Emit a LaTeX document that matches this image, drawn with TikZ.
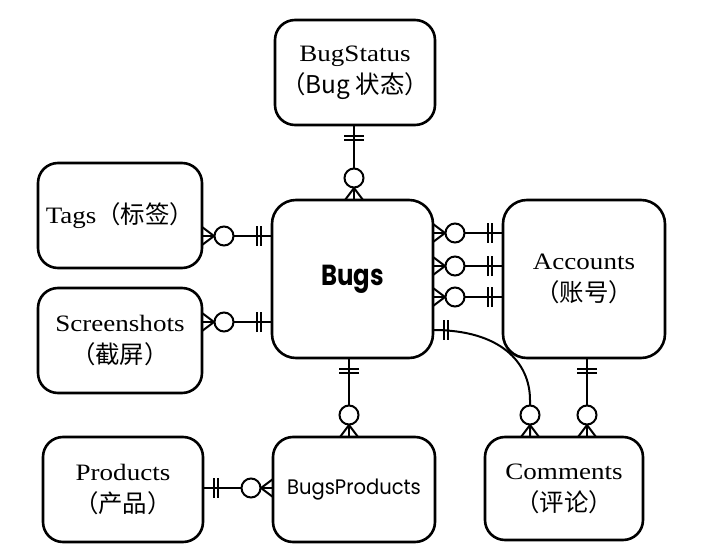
\documentclass[tikz,border=0pt]{standalone}
\usepackage{fontspec}
\setmainfont{Liberation Serif}[FakeStretch=1.15]
\newfontfamily\cjk{Noto Sans CJK SC}[Scale=1.04]
\newfontfamily\geo{Poppins}[FakeStretch=0.93]
\newfontfamily\geob{Poppins}[FakeStretch=0.84]
\usetikzlibrary{calc}
\newcommand{\onebar}[2]{%
  \draw[conn] ($(#1)!11pt!(#2)!10pt!90:(#2)$) -- ($(#1)!11pt!(#2)!10pt!-90:(#2)$);
  \draw[conn] ($(#1)!15pt!(#2)!10pt!90:(#2)$) -- ($(#1)!15pt!(#2)!10pt!-90:(#2)$);
}
\newcommand{\manyend}[2]{%
  \draw[conn] ($(#1)!12pt!(#2)$) -- ($(#1)!9pt!90:(#2)$);
  \draw[conn] ($(#1)!12pt!(#2)$) -- ($(#1)!9pt!-90:(#2)$);
  \draw[conn,fill=white] ($(#1)!22pt!(#2)$) circle[radius=9.5pt];
}
\begin{document}
\begin{tikzpicture}[x=1pt,y=-1pt,
  box/.style={draw, line width=2.6pt, rounded corners=20pt, inner sep=0pt, outer sep=0pt,
    align=center, font=\fontsize{23.5}{32}\selectfont},
  conn/.style={line width=2pt},
]
\useasboundingbox (0,0) rectangle (705,559);
% entities
\node[box, minimum width=160pt, minimum height=105pt] (bugstatus) at (355,72.5)
  {BugStatus\\\cjk{（}Bug \cjk{状态）}};
\node[box, minimum width=164pt, minimum height=105pt] (tags) at (120,215.5)
  {Tags\cjk{（标签）}};
\node[box, minimum width=164pt, minimum height=105pt] (screenshots) at (120,340.5)
  {Screenshots\\\cjk{（截屏）}};
\node[box, minimum width=161pt, minimum height=158pt, rounded corners=24pt,
  font=\geob\bfseries\fontsize{29}{32}\selectfont] (bugs) at (352.5,279) {Bugs};
\node[box, minimum width=162pt, minimum height=158pt, rounded corners=24pt] (accounts) at (584,279)
  {Accounts\\\cjk{（账号）}};
\node[box, minimum width=160pt, minimum height=105pt] (products) at (123,489.5)
  {Products\\\cjk{（产品）}};
\node[box, minimum width=162pt, minimum height=105pt,
  font=\geo\fontsize{21}{24}\selectfont] (bugsproducts) at (354,489.5) {BugsProducts};
\node[box, minimum width=158pt, minimum height=103pt] (comments) at (564,488.5)
  {Comments\\\cjk{（评论）}};
% BugStatus - Bugs
\coordinate (bs1) at (bugstatus.south -| 354,0);
\coordinate (bs2) at (bugs.north -| 354,0);
\draw[conn] (bs1) -- (bs2);
\onebar{bs1}{bs2}
\manyend{bs2}{bs1}
% Tags - Bugs
\coordinate (tg1) at (bugs.west |- 0,236);
\coordinate (tg2) at (tags.east |- 0,236);
\draw[conn] (tg1) -- (tg2);
\onebar{tg1}{tg2}
\manyend{tg2}{tg1}
% Screenshots - Bugs
\coordinate (sc1) at (bugs.west |- 0,322);
\coordinate (sc2) at (screenshots.east |- 0,322);
\draw[conn] (sc1) -- (sc2);
\onebar{sc1}{sc2}
\manyend{sc2}{sc1}
% Accounts - Bugs (three)
\foreach \yy/\nm in {233/a, 266/b, 297/c}{
  \coordinate (ac1\nm) at (accounts.west |- 0,\yy);
  \coordinate (ac2\nm) at (bugs.east |- 0,\yy);
  \draw[conn] (ac1\nm) -- (ac2\nm);
  \onebar{ac1\nm}{ac2\nm}
  \manyend{ac2\nm}{ac1\nm}
}
% Bugs - BugsProducts
\coordinate (bp1) at (bugs.south -| 349,0);
\coordinate (bp2) at (bugsproducts.north -| 349,0);
\draw[conn] (bp1) -- (bp2);
\onebar{bp1}{bp2}
\manyend{bp2}{bp1}
% Products - BugsProducts
\coordinate (pr1) at (products.east |- 0,488);
\coordinate (pr2) at (bugsproducts.west |- 0,488);
\draw[conn] (pr1) -- (pr2);
\onebar{pr1}{pr2}
\manyend{pr2}{pr1}
% Accounts - Comments
\coordinate (cm1) at (accounts.south -| 587,0);
\coordinate (cm2) at (comments.north -| 587,0);
\draw[conn] (cm1) -- (cm2);
\onebar{cm1}{cm2}
\manyend{cm2}{cm1}
% Bugs - Comments (curve)
\coordinate (bc1) at (bugs.east |- 0,330);
\coordinate (bc2) at (comments.north -| 530,0);
\coordinate (bcx) at (470,330);
\coordinate (bcm) at (530,400);
\draw[conn] (bc1) .. controls (500,330) and (530,362) .. (bcm) -- (bc2);
\onebar{bc1}{bcx}
\manyend{bc2}{bcm}
\end{tikzpicture}
\end{document}
